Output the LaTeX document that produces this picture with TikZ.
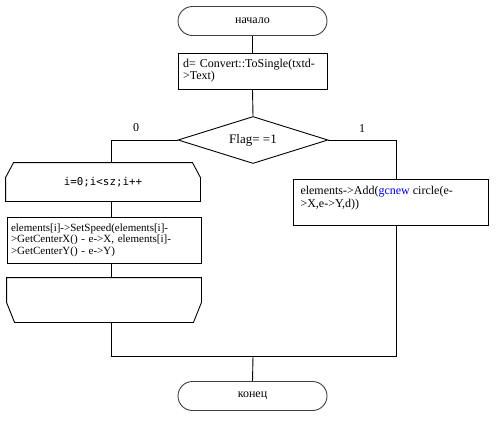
\documentclass[tikz,border=0pt]{standalone}
\usepackage{fontspec}
\setmainfont{Liberation Serif}
\newfontfamily\codefont{DejaVu Sans Mono}
\usetikzlibrary{shapes.geometric}
\definecolor{kwblue}{RGB}{0,0,230}
\begin{document}
\begin{tikzpicture}[x=1pt,y=-1pt, line width=0.9pt,
  term/.style={draw=black!75, rounded corners=14.5pt, minimum width=149pt, minimum height=29pt, inner sep=0pt, font=\fontsize{12}{14}\selectfont},
  proc/.style={draw, inner sep=0pt},
  bare/.style={inner sep=0pt},
  lbl/.style={inner sep=0pt, font=\fontsize{12}{14}\selectfont}]
\useasboundingbox (0,0) rectangle (502,421);

\node[term] (start) at (252.5,21) {начало};

\node[proc, minimum width=149pt, minimum height=36pt, align=left, text width=139pt,
      font=\fontsize{12}{12}\selectfont] (b1) at (252.5,71)
  {d= Convert::ToSingle(txtd-\\>Text)};

\node[diamond, draw, aspect=3, minimum width=150pt, minimum height=47pt, inner sep=0pt,
      font=\fontsize{13}{15}\selectfont] (dec) at (253,140) {Flag= =1};

\node[bare, minimum width=194pt, minimum height=38pt,
      font=\codefont\fontsize{10.8}{12}\selectfont] (ls) at (103,182) {i=0;i<sz;i++};
\draw ([yshift=-15pt]ls.north west) -- ([xshift=8pt]ls.north west) -- ([xshift=-8pt]ls.north east)
  -- ([yshift=-15pt]ls.north east) -- (ls.south east) -- (ls.south west) -- cycle;

\node[proc, minimum width=194pt, minimum height=46pt, align=left, text width=186pt,
      font=\fontsize{11}{11.5}\selectfont] (b2) at (104,240)
  {elements[i]->SetSpeed(elements[i]-\\>GetCenterX() - e->X, elements[i]-\\>GetCenterY() - e->Y)};

\node[bare, minimum width=194pt, minimum height=44pt] (le) at (104,300) {};
\draw (le.north west) -- (le.north east) -- ([yshift=20pt]le.south east) -- ([xshift=-8pt]le.south east)
  -- ([xshift=8pt]le.south west) -- ([yshift=20pt]le.south west) -- cycle;

\node[proc, minimum width=195pt, minimum height=46pt, font=\fontsize{12}{13}\selectfont] (rb) at (390.5,202)
  {\parbox[c][32pt][t]{180pt}{\raggedright elements->Add(\textcolor{kwblue}{gcnew} circle(e-\\>X,e->Y,d))}};

\node[term] (end) at (252.5,396) {конец};

\node[lbl] (l0) at (136,128) {0};
\node[lbl] (l1) at (362,129) {1};

\coordinate (lx) at (111,0);
\coordinate (rx) at (396,0);
\coordinate (merge) at (253,356);

\draw (start.south) -- (b1.north);
\draw (b1.south) -- (dec.north);
\draw (dec.west) -| (ls.north -| lx);
\draw (dec.east) -| (rb.north -| rx);
\draw (ls.south -| lx) -- (b2.north -| lx);
\draw (b2.south -| lx) -- (le.north -| lx);
\draw (le.south -| lx) -- (merge -| lx) -- (merge -| rx) -- (rb.south -| rx);
\draw (merge) -- (end.north);
\end{tikzpicture}
\end{document}
